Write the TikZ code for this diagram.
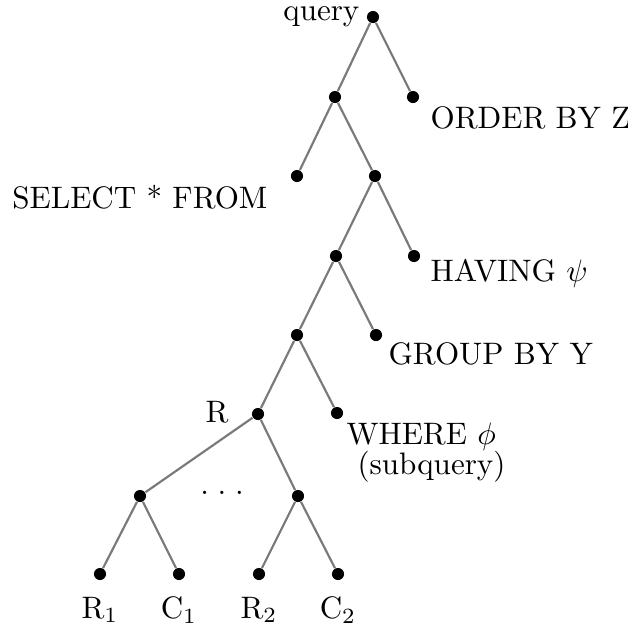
\documentclass[tikz,border=0pt]{standalone}
\usepackage{amsmath,amssymb}
\usepackage{tikz}
\usetikzlibrary{positioning}
\definecolor{FadedInk}{HTML}{7A7A7A}

\begin{document}
\begin{tikzpicture}[x=0.322pt,y=-0.322pt,
    dot/.style={circle,fill=black,inner sep=0pt,minimum size=3.9pt},
    edge/.style={FadedInk,line width=0.7pt},
    lbl/.style={inner sep=0pt,font=\normalsize}]
  \useasboundingbox (0,0) rectangle (628,633);
  % tree dots
  \node[dot] (query) at (373,17) {};
  \node[dot] (a) at (335,97) {};
  \node[dot] (order) at (413,97) {};
  \node[dot] (select) at (297,176) {};
  \node[dot] (b) at (375,176) {};
  \node[dot] (c) at (336,256) {};
  \node[dot] (having) at (414,256) {};
  \node[dot] (d) at (297,335) {};
  \node[dot] (group) at (376,335) {};
  \node[dot] (r) at (258,414) {};
  \node[dot] (where) at (337,413) {};
  \node[dot] (e) at (140,496) {};
  \node[dot] (f) at (298,496) {};
  \node[dot] (r1) at (100,574) {};
  \node[dot] (c1) at (179,574) {};
  \node[dot] (r2) at (259,574) {};
  \node[dot] (c2) at (338,574) {};
  % edges
  \draw[edge] (query)--(a) (query)--(order);
  \draw[edge] (a)--(select) (a)--(b);
  \draw[edge] (b)--(c) (b)--(having);
  \draw[edge] (c)--(d) (c)--(group);
  \draw[edge] (d)--(r) (d)--(where);
  \draw[edge] (r)--(e) (r)--(f);
  \draw[edge] (e)--(r1) (e)--(c1);
  \draw[edge] (f)--(r2) (f)--(c2);
  % labels
  \node[lbl,anchor=east] (querylbl) at (360,17) {query};
  \node[lbl,anchor=west] (orderlbl) at (430,118) {ORDER BY Z};
  \node[lbl,anchor=east] (selectlbl) at (268,197) {SELECT * FROM};
  \node[lbl,anchor=west] (havinglbl) at (430,273) {HAVING $\psi$};
  \node[lbl,anchor=west] (grouplbl) at (388,354) {GROUP BY Y};
  \node[lbl,anchor=east] (rlbl) at (229,412) {R};
  \node[lbl,anchor=west] (wherelbl) at (346,437) {WHERE $\phi$};
  \node[lbl,anchor=west] (sublbl) at (357,467) {(subquery)};
  \node[lbl] (dots) at (222,493) {.\hspace{2.8pt}.\hspace{2.8pt}.};
  \node[lbl] (r1lbl) at (100,610) {R$_1$};
  \node[lbl] (c1lbl) at (179,610) {C$_1$};
  \node[lbl] (r2lbl) at (259,610) {R$_2$};
  \node[lbl] (c2lbl) at (338,610) {C$_2$};
\end{tikzpicture}
\end{document}
